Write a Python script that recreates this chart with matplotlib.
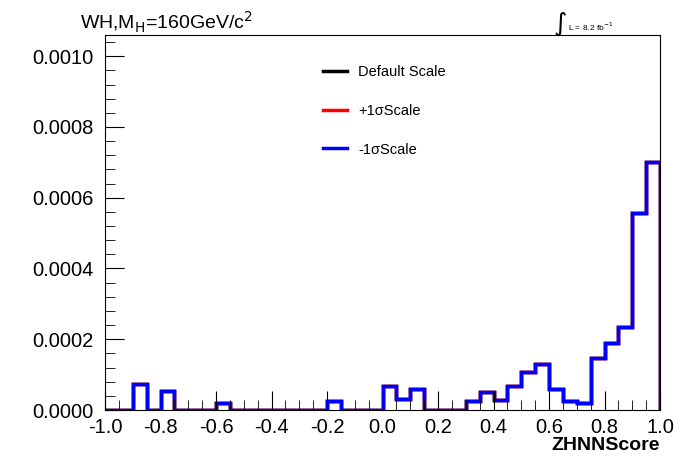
import numpy as np
import matplotlib
matplotlib.use("Agg")
import matplotlib.pyplot as plt
from matplotlib.ticker import MultipleLocator, FormatStrFormatter

plt.rcParams['font.family'] = ['Liberation Sans', 'DejaVu Sans']

# --- DATA ---
bin_edges = np.linspace(-1.0, 1.0, 41)
counts = [0, 0, 7.3e-5, 0, 5.4e-5, 0, 0, 0, 2.0e-5, 0,
          0, 0, 0, 0, 0, 0, 2.5e-5, 0, 0, 0,
          6.8e-5, 3.1e-5, 5.9e-5, 0, 0, 0, 2.5e-5, 5.1e-5, 2.8e-5, 6.8e-5,
          1.07e-4, 1.30e-4, 5.9e-5, 2.5e-5, 2.0e-5, 1.47e-4, 1.89e-4, 2.34e-4, 5.57e-4, 7.0e-4]
series = ["Default Scale", "+1\u03c3Scale", "-1\u03c3Scale"]
colors = ["black", "red", "blue"]

fig = plt.figure(figsize=(6.96, 4.72), dpi=100)
ax = fig.add_axes([105/696, 1-410/472, 555/696, 375/472])

for name, c in zip(series, colors):
    ax.stairs(counts, bin_edges, color=c, lw=2.5, label=name)

ax.set_xlim(-1, 1)
ax.set_ylim(0, 0.00106)
ax.xaxis.set_major_locator(MultipleLocator(0.2))
ax.xaxis.set_minor_locator(MultipleLocator(0.05))
ax.yaxis.set_major_locator(MultipleLocator(0.0002))
ax.yaxis.set_minor_locator(MultipleLocator(0.00004))
ax.xaxis.set_major_formatter(FormatStrFormatter('%.1f'))
ax.yaxis.set_major_formatter(FormatStrFormatter('%.4f'))
ax.tick_params(which='both', direction='in', top=False, right=False, labelsize=14.5)
ax.tick_params(which='major', length=14)
ax.tick_params(which='minor', length=7)
ax.tick_params(axis='x', pad=6)
ax.tick_params(axis='y', pad=8)

ax.set_xlabel("ZHNNScore", fontsize=14, fontweight='bold', loc='right', labelpad=0)

ax.legend(loc='upper left', bbox_to_anchor=(0.37, 0.955), frameon=False, fontsize=10.5,
          handlelength=1.6, labelspacing=1.7)

fig.text(80/696, 1-22/472, "WH,M$_{\\mathrm{H}}$=160GeV/c$^{\\mathrm{2}}$", fontsize=14, va='center')
fig.text(553/696, 1-24/472, "$\\int$", fontsize=13, va='center')
fig.text(568/696, 1-27/472, "L = 8.2 fb$^{-1}$", fontsize=6, va='center')

fig.savefig("out.png", dpi=100)
